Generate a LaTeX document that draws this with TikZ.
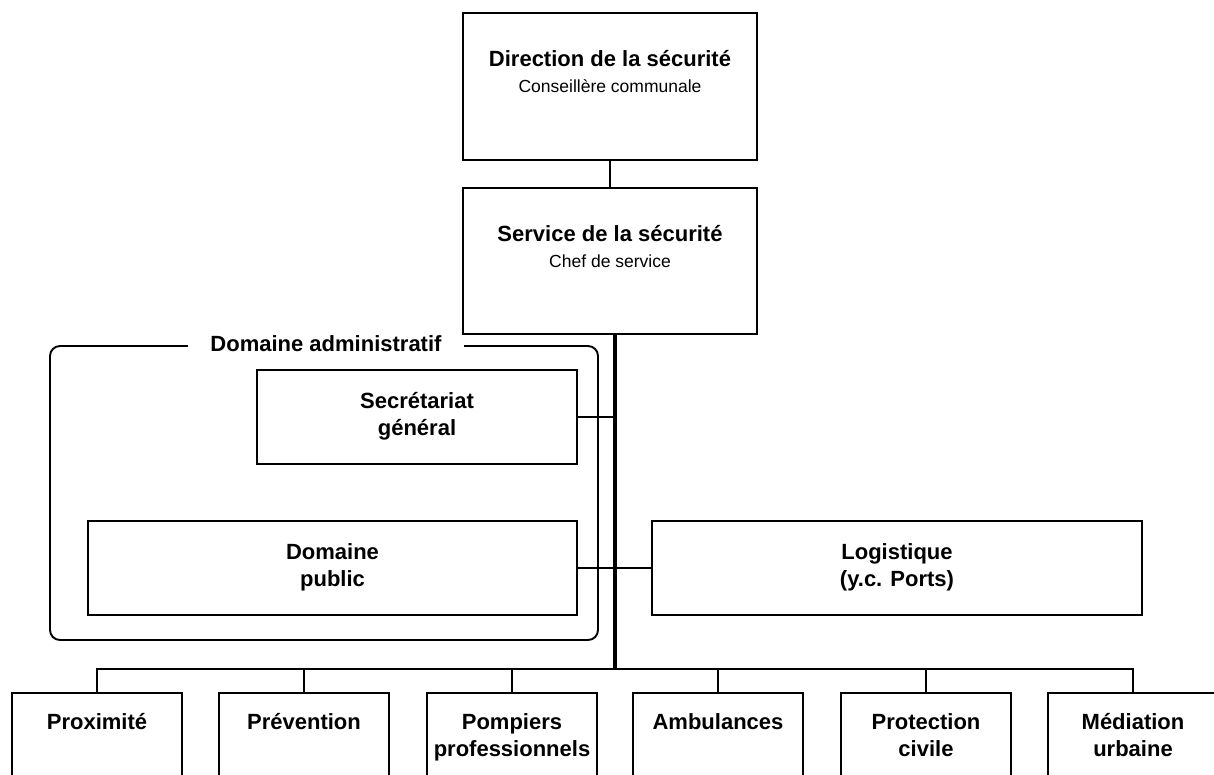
\documentclass[tikz,border=0pt]{standalone}
\usepackage{fontspec}
\setmainfont{Liberation Sans}
\usetikzlibrary{positioning}

\begin{document}
\begin{tikzpicture}[x=1pt,y=-1pt]
      \tikzstyle{orgbox} = [rectangle, draw, line width=1.6pt, inner sep=0pt]
      \tikzstyle{lowbox} = [orgbox, minimum width=170pt, minimum height=120pt]
      \tikzstyle{groupframe} = [rectangle, rounded corners=10pt, draw, line width=1.9pt]
      \tikzstyle{headtext} = [inner sep=0pt, font=\fontsize{22}{27}\selectfont\bfseries, align=center]
      \tikzstyle{subtext} = [inner sep=0pt, font=\fontsize{17.5}{21}\selectfont]
      \tikzstyle{link} = [line width=1.6pt]
      \tikzstyle{bus} = [line width=2pt]
      \tikzstyle{trunk} = [line width=3.3pt]

      \useasboundingbox (0,0) rectangle (1214,775);
      \clip (0,0) rectangle (1214,775);

      % direction
      \node[orgbox, minimum width=294pt, minimum height=147pt] (dir) at (610,86.5) {};
      \node[headtext, below=35pt of dir.north] (dirT) {\strut Direction de la sécurité};
      \node[subtext, below=3pt of dirT] (dirS) {\strut Conseillère communale};

      \node[orgbox, minimum width=294pt, minimum height=146pt] (svc) at (610,261) {};
      \node[headtext, below=35pt of svc.north] (svcT) {\strut Service de la sécurité};
      \node[subtext, below=3pt of svcT] (svcS) {\strut Chef de service};

      % domaine administratif
      \node[groupframe, minimum width=548pt, minimum height=294pt] (admin) at (324,493) {};
      \node[headtext, fill=white, inner xsep=22pt, anchor=base] (adminT) at ([xshift=2pt,yshift=-6pt]admin.north) {Domaine administratif};
      \node[orgbox, headtext, minimum width=320pt, minimum height=94pt] (sec) at (417,417) {\strut Secrétariat\\\strut général};
      \node[orgbox, headtext, minimum width=489pt, minimum height=94pt] (dompub) at (332.5,568) {\strut Domaine\\\strut public};
      \node[orgbox, headtext, minimum width=490pt, minimum height=94pt] (log) at (897,568) {\strut Logistique\\\strut (y.c. Ports)};

      % unites
      \node[lowbox] (prox) at (97,753) {};
      \node[lowbox] (prev) at (304,753) {};
      \node[lowbox] (pomp) at (512,753) {};
      \node[lowbox] (amb) at (718,753) {};
      \node[lowbox] (pciv) at (926,753) {};
      \node[lowbox] (med) at (1133,753) {};
      \node[headtext, below=18pt of prox.north] (proxT) {\strut Proximité};
      \node[headtext, below=18pt of prev.north] (prevT) {\strut Prévention};
      \node[headtext, below=18pt of pomp.north] (pompT) {\strut Pompiers\\\strut professionnels};
      \node[headtext, below=18pt of amb.north] (ambT) {\strut Ambulances};
      \node[headtext, below=18pt of pciv.north] (pcivT) {\strut Protection\\\strut civile};
      \node[headtext, below=18pt of med.north] (medT) {\strut Médiation\\\strut urbaine};

      \coordinate (hub) at (615,669);

      \draw[link] (dir) -- (svc);
      \draw[trunk] (hub |- svc.south) -- (hub);
      \draw[link] (sec.east) -- (sec.east -| hub);
      \draw[link] (dompub.east) -- (log.west);
      \draw[bus] (prox.north) |- (hub);
      \draw[bus] (prev.north) |- (hub);
      \draw[bus] (pomp.north) |- (hub);
      \draw[bus] (amb.north) |- (hub);
      \draw[bus] (pciv.north) |- (hub);
      \draw[bus] (med.north) |- (hub);
    \end{tikzpicture}
\end{document}
